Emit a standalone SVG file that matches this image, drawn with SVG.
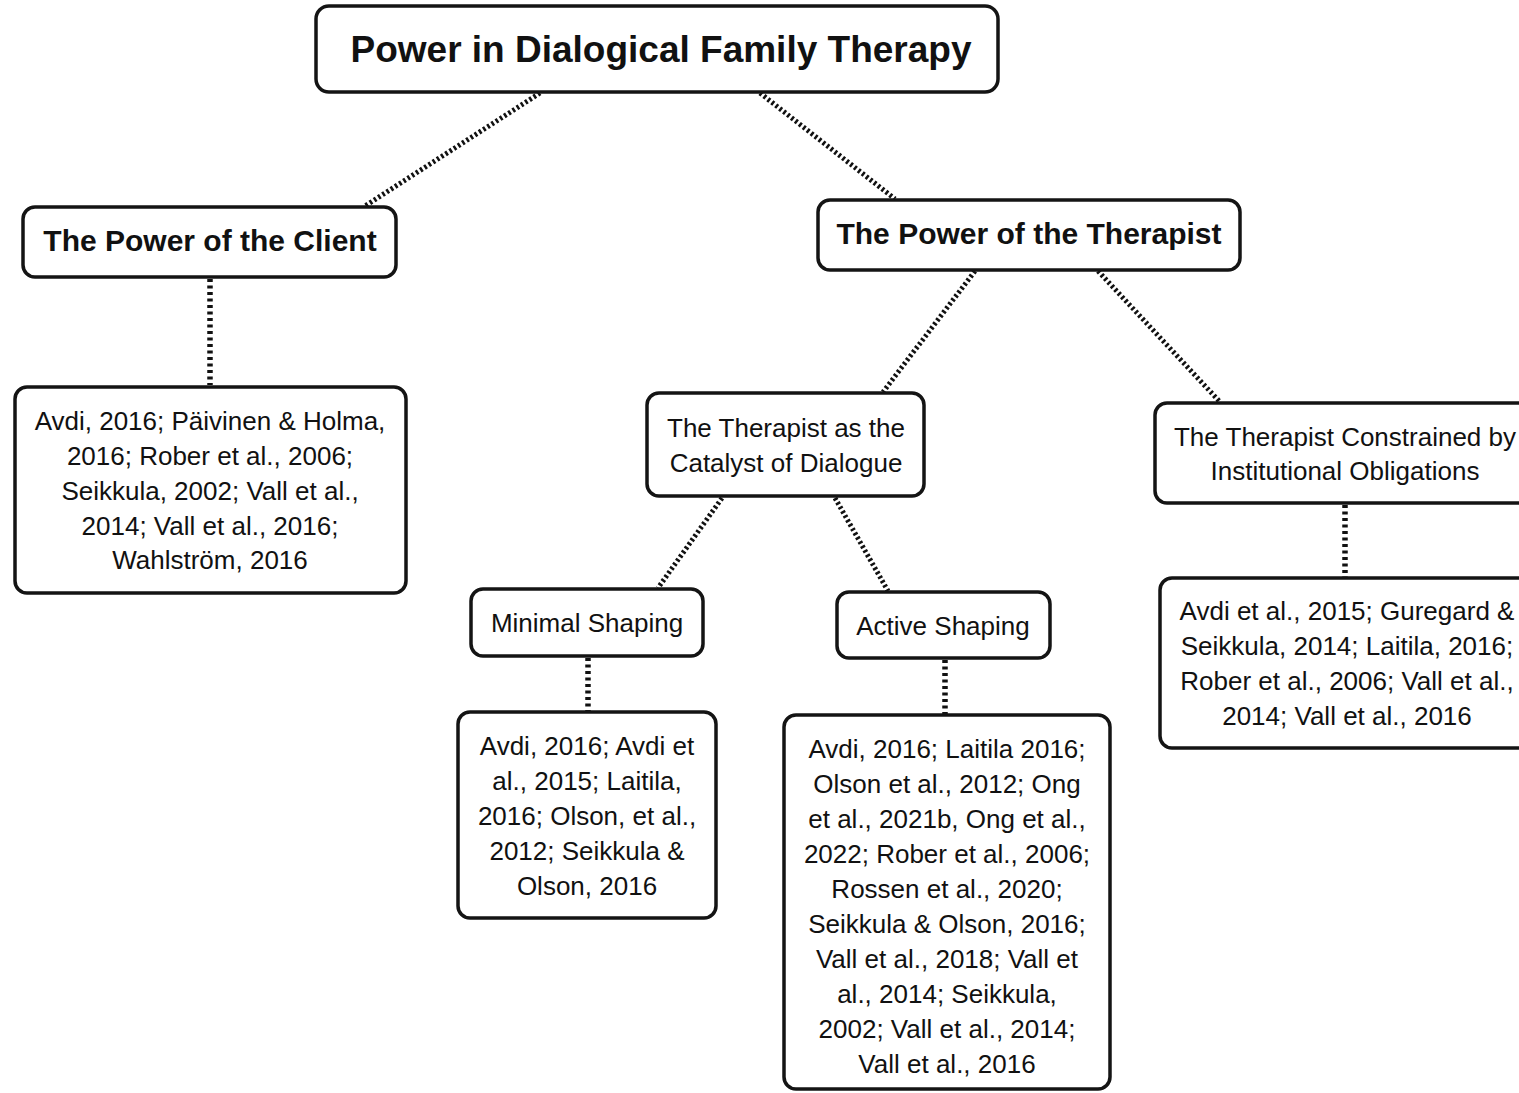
<svg xmlns="http://www.w3.org/2000/svg" width="1519" height="1093" viewBox="0 0 1519 1093">
<style>
.box{fill:#fff;stroke:#141414;stroke-width:3.5}
.t{font-family:"Liberation Sans",Arial,sans-serif;fill:#111;text-anchor:middle}
.b{font-weight:bold}
.r{font-size:26px}
.h{font-size:30px}
.diag{stroke:#111;stroke-width:5;stroke-dasharray:2.5 2.5;fill:none}
.vert{stroke:#111;stroke-width:5.5;stroke-dasharray:3 3.5;fill:none}
</style>
<rect width="1519" height="1093" fill="#fff"/>
<g id="connectors">
<line class="diag" x1="540" y1="93" x2="365" y2="206"/>
<line class="diag" x1="760" y1="93" x2="895" y2="199"/>
<line class="vert" x1="210" y1="279" x2="210" y2="385"/>
<line class="diag" x1="975" y1="271" x2="883" y2="392"/>
<line class="diag" x1="1098" y1="271" x2="1220" y2="402"/>
<line class="diag" x1="722" y1="498" x2="658" y2="588"/>
<line class="diag" x1="835" y1="498" x2="888" y2="591"/>
<line class="vert" x1="1345" y1="505" x2="1345" y2="577"/>
<line class="vert" x1="588" y1="658" x2="588" y2="711"/>
<line class="vert" x1="945" y1="660" x2="945" y2="714"/>
</g>
<g id="title">
<rect class="box" x="316" y="6" width="682" height="86" rx="13"/>
<text class="t b" x="661" y="62" font-size="37">Power in Dialogical Family Therapy</text>
</g>
<g id="client">
<rect class="box" x="23" y="207" width="373" height="70" rx="12"/>
<text class="t b h" x="210" y="251">The Power of the Client</text>
</g>
<g id="therapist">
<rect class="box" x="818" y="200" width="422" height="70" rx="12"/>
<text class="t b h" x="1029" y="244">The Power of the Therapist</text>
</g>
<g id="client-refs">
<rect class="box" x="15" y="387" width="391" height="206" rx="12"/>
<text class="t r" x="210" y="430">Avdi, 2016; Päivinen &amp; Holma,</text>
<text class="t r" x="210" y="465">2016; Rober et al., 2006;</text>
<text class="t r" x="210" y="500">Seikkula, 2002; Vall et al.,</text>
<text class="t r" x="210" y="535">2014; Vall et al., 2016;</text>
<text class="t r" x="210" y="569">Wahlström, 2016</text>
</g>
<g id="catalyst">
<rect class="box" x="647" y="393" width="277" height="103" rx="12"/>
<text class="t r" x="786" y="437">The Therapist as the</text>
<text class="t r" x="786" y="472">Catalyst of Dialogue</text>
</g>
<g id="constrained">
<rect class="box" x="1155" y="403" width="400" height="100" rx="12"/>
<text class="t r" x="1345" y="446">The Therapist Constrained by</text>
<text class="t r" x="1345" y="480">Institutional Obligations</text>
</g>
<g id="constrained-refs">
<rect class="box" x="1160" y="578" width="400" height="170" rx="12"/>
<text class="t r" x="1347" y="620">Avdi et al., 2015; Guregard &amp;</text>
<text class="t r" x="1347" y="655">Seikkula, 2014; Laitila, 2016;</text>
<text class="t r" x="1347" y="690">Rober et al., 2006; Vall et al.,</text>
<text class="t r" x="1347" y="725">2014; Vall et al., 2016</text>
</g>
<g id="minimal">
<rect class="box" x="471" y="589" width="232" height="67" rx="12"/>
<text class="t r" x="587" y="632">Minimal Shaping</text>
</g>
<g id="active">
<rect class="box" x="837" y="592" width="213" height="66" rx="12"/>
<text class="t r" x="943" y="635">Active Shaping</text>
</g>
<g id="minimal-refs">
<rect class="box" x="458" y="712" width="258" height="206" rx="12"/>
<text class="t r" x="587" y="755">Avdi, 2016; Avdi et</text>
<text class="t r" x="587" y="790">al., 2015; Laitila,</text>
<text class="t r" x="587" y="825">2016; Olson, et al.,</text>
<text class="t r" x="587" y="860">2012; Seikkula &amp;</text>
<text class="t r" x="587" y="895">Olson, 2016</text>
</g>
<g id="active-refs">
<rect class="box" x="784" y="715" width="326" height="374" rx="12"/>
<text class="t r" x="947" y="758">Avdi, 2016; Laitila 2016;</text>
<text class="t r" x="947" y="793">Olson et al., 2012; Ong</text>
<text class="t r" x="947" y="828">et al., 2021b, Ong et al.,</text>
<text class="t r" x="947" y="863">2022; Rober et al., 2006;</text>
<text class="t r" x="947" y="898">Rossen et al., 2020;</text>
<text class="t r" x="947" y="933">Seikkula &amp; Olson, 2016;</text>
<text class="t r" x="947" y="968">Vall et al., 2018; Vall et</text>
<text class="t r" x="947" y="1003">al., 2014; Seikkula,</text>
<text class="t r" x="947" y="1038">2002; Vall et al., 2014;</text>
<text class="t r" x="947" y="1073">Vall et al., 2016</text>
</g>
</svg>
